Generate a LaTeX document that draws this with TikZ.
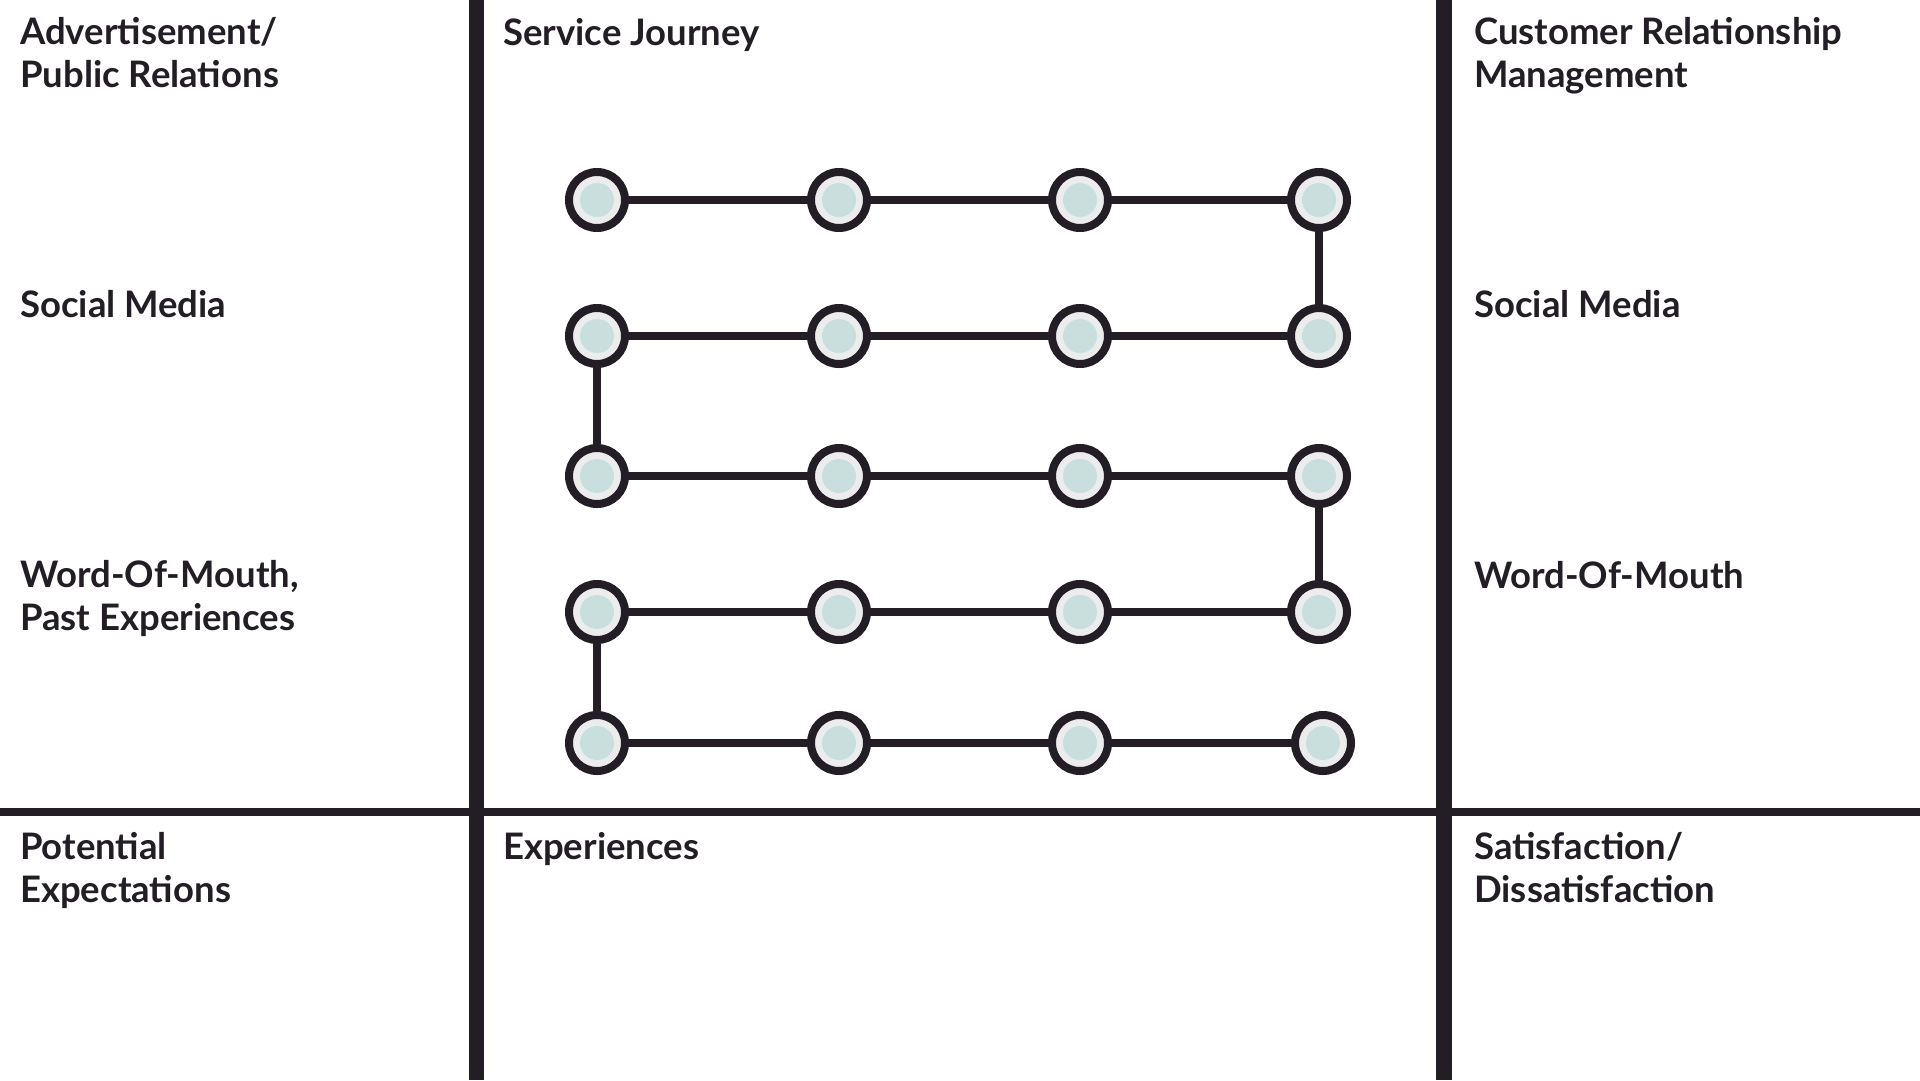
\documentclass[tikz,border=0pt]{standalone}
\usepackage{fontspec}
\setmainfont{Lato}
\definecolor{ink}{RGB}{35,29,38}
\definecolor{ring}{RGB}{236,236,236}
\definecolor{seafoam}{RGB}{201,223,222}
\begin{document}
\begin{tikzpicture}
        [x=1pt,y=-1pt,
         node_style/.style={circle,draw=ink,line width=8pt,fill=ring,minimum size=56pt,inner sep=0pt,
           path picture={\fill[seafoam] (path picture bounding box.center) circle (17pt);}},
         edge_style/.style={draw=ink,line width=8pt},
         label_style/.style={anchor=base west,inner sep=0pt,align=left,text=ink,
           font=\fontsize{36.5}{42.3}\selectfont\bfseries},
         rule_style/.style={ink}]
            \useasboundingbox[fill=white] (0,0) rectangle (1920,1080);
            % panel rules
            \fill[rule_style] (468.5,0) rectangle (483.5,1080);
            \fill[rule_style] (1436,0) rectangle (1452,1080);
            \fill[rule_style] (0,808) rectangle (1920,816);
            % texts (base = last line)
            \node[label_style] (adv) at (20,87)   {Advertisement/\\Public Relations};
            \node[label_style] (smin) at (20,317) {Social Media};
            \node[label_style] (wom) at (20,630)  {Word-Of-Mouth,\\Past Experiences};
            \node[label_style] (pot) at (20,902)  {Potential\\Expectations};
            \node[label_style] (jour) at (503,45) {Service Journey};
            \node[label_style] (exp) at (503,859) {Experiences};
            \node[label_style] (crm) at (1474,87) {Customer Relationship\\Management};
            \node[label_style] (smout) at (1474,317) {Social Media};
            \node[label_style] (womout) at (1474,588) {Word-Of-Mouth};
            \node[label_style] (sat) at (1474,902) {Satisfaction/\\Dissatisfaction};
            % journey
            \node[node_style] (v0) at (597, 200)  {};
            \node[node_style] (v1) at (839, 200)  {};
            \node[node_style] (v2) at (1080, 200) {};
            \node[node_style] (v3) at (1319, 200) {};
            \node[node_style] (v4) at (597, 336)  {};
            \node[node_style] (v5) at (839, 336)  {};
            \node[node_style] (v6) at (1080, 336) {};
            \node[node_style] (v7) at (1319, 336) {};
            \node[node_style] (v8) at (597, 476)  {};
            \node[node_style] (v9) at (839, 476)  {};
            \node[node_style] (v10) at (1080, 476) {};
            \node[node_style] (v11) at (1319, 476) {};
            \node[node_style] (v12) at (597, 612)  {};
            \node[node_style] (v13) at (839, 612)  {};
            \node[node_style] (v14) at (1080, 612) {};
            \node[node_style] (v15) at (1319, 612) {};
            \node[node_style] (v16) at (597, 743)  {};
            \node[node_style] (v17) at (839, 743)  {};
            \node[node_style] (v18) at (1080, 743) {};
            \node[node_style] (v19) at (1323, 743) {};
            \draw[edge_style]  (v0) edge (v1);
            \draw[edge_style]  (v1) edge (v2);
            \draw[edge_style]  (v2) edge (v3);
            \draw[edge_style]  (v3) edge (v7);
            \draw[edge_style]  (v7) edge (v6);
            \draw[edge_style]  (v6) edge (v5);
            \draw[edge_style]  (v5) edge (v4);
            \draw[edge_style]  (v4) edge (v8);
            \draw[edge_style]  (v8) edge (v9);
            \draw[edge_style]  (v9) edge (v10);
            \draw[edge_style]  (v10) edge (v11);
            \draw[edge_style]  (v11) edge (v15);
            \draw[edge_style]  (v15) edge (v14);
            \draw[edge_style]  (v14) edge (v13);
            \draw[edge_style]  (v13) edge (v12);
            \draw[edge_style]  (v12) edge (v16);
            \draw[edge_style]  (v16) edge (v17);
            \draw[edge_style]  (v17) edge (v18);
            \draw[edge_style]  (v18) edge (v19);
        \end{tikzpicture}
\end{document}
